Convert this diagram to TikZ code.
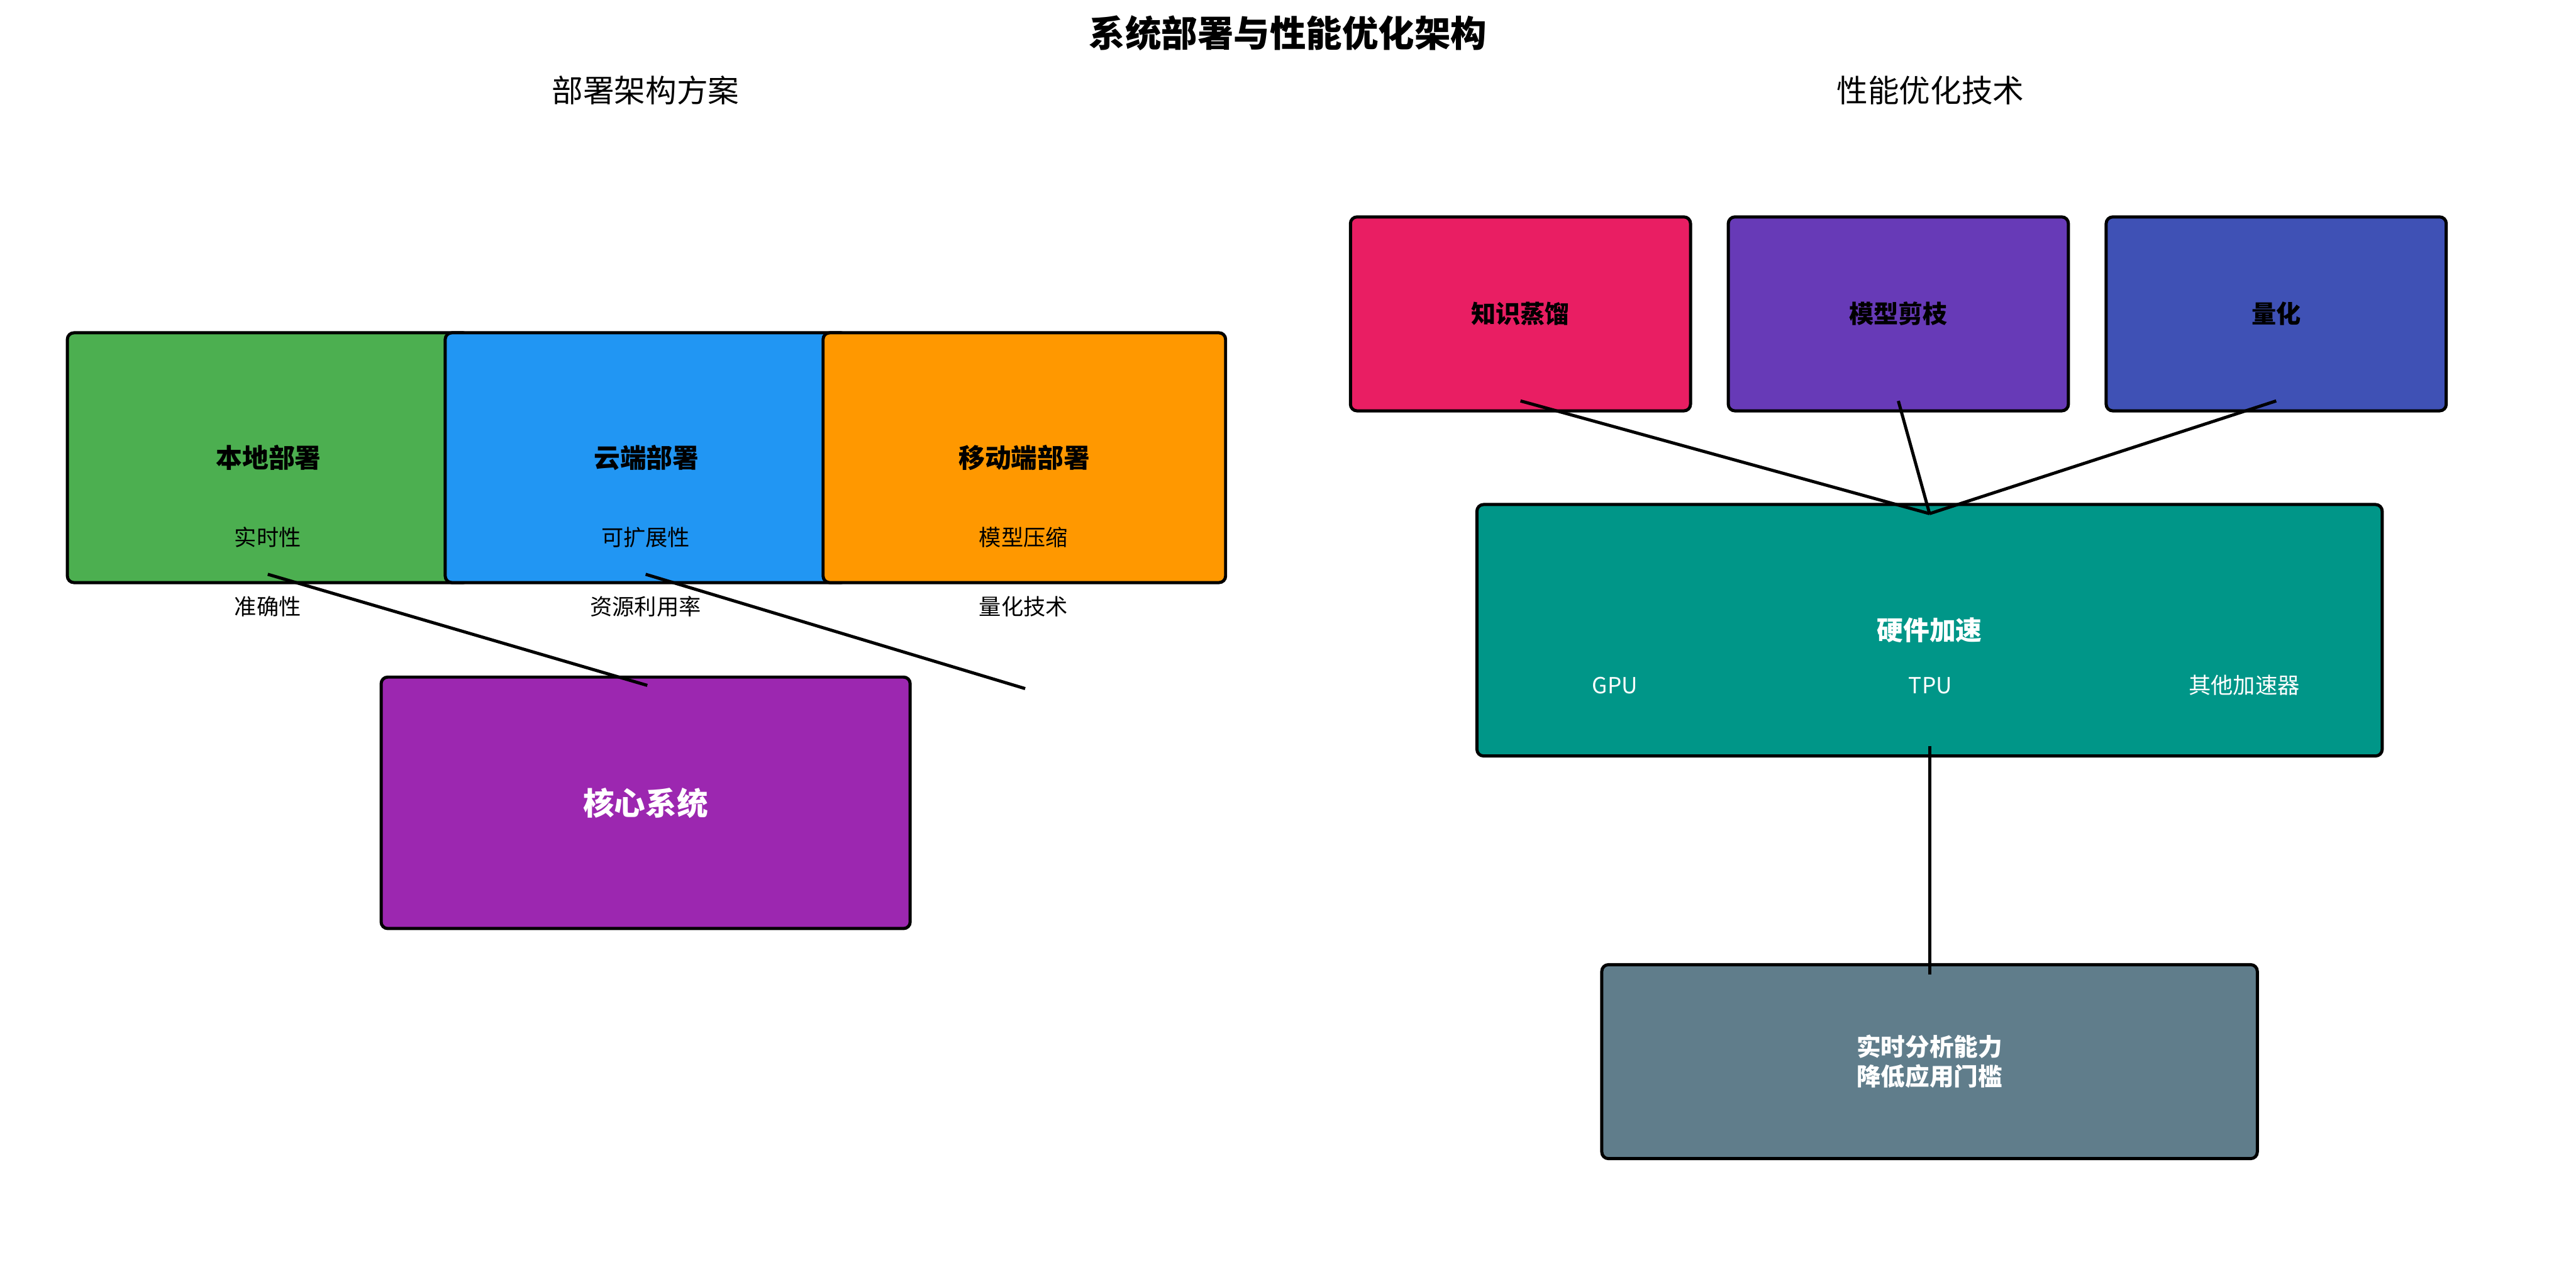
\documentclass[tikz,border=0pt]{standalone}
\usepackage{fontspec}
\setmainfont{Noto Sans CJK SC}
\begin{document}
\begin{tikzpicture}[x=1pt,y=-1pt,
  box/.style={draw=black,line width=1.9pt,rounded corners=4pt,inner sep=0pt},
  conn/.style={draw=black,line width=1.9pt},
  ttl/.style={font=\fontsize{22}{26}\selectfont\bfseries},
  sub/.style={font=\fontsize{19}{22}\selectfont},
  mlab/.style={font=\fontsize{16}{19}\selectfont\bfseries},
  slab/.style={font=\fontsize{13.5}{16}\selectfont}]
\definecolor{cgreen}{HTML}{4CAF50}
\definecolor{cblue}{HTML}{2196F3}
\definecolor{corange}{HTML}{FF9800}
\definecolor{cpurple}{HTML}{9C27B0}
\definecolor{cpink}{HTML}{E91E63}
\definecolor{cdeep}{HTML}{673AB7}
\definecolor{cindigo}{HTML}{3F51B5}
\definecolor{cteal}{HTML}{009688}
\definecolor{cgrey}{HTML}{607D8B}
\path[use as bounding box,fill=white] (0,0) rectangle (1568,778);

\node[ttl] (title) at (784,20) {系统部署与性能优化架构};
\node[sub] (subL) at (393,55) {部署架构方案};
\node[sub] (subR) at (1175,55) {性能优化技术};

% left deployment boxes
\node[box,fill=cgreen,minimum width=245pt,minimum height=152pt,mlab] (local) at (163.5,278.5) {本地部署};
\node[box,fill=cblue,minimum width=245pt,minimum height=152pt,mlab] (cloud) at (393.5,278.5) {云端部署};
\node[box,fill=corange,minimum width=245pt,minimum height=152pt,mlab] (mobile) at (623.5,278.5) {移动端部署};
\node[box,fill=cpurple,minimum width=322pt,minimum height=153pt,text=white,font=\fontsize{19}{22}\selectfont\bfseries] (core) at (393,488.5) {核心系统};

\node[slab] (l1) at (163,327) {实时性};
\node[slab] (l2) at (163,369) {准确性};
\node[slab] (c1) at (393,327) {可扩展性};
\node[slab] (c2) at (393,369) {资源利用率};
\node[slab] (m1) at (623,327) {模型压缩};
\node[slab] (m2) at (623,369) {量化技术};

\coordinate (freeend) at (624,419);
\draw[conn] ([xshift=-0.5pt,yshift=6pt]local.south) -- ([xshift=1pt,yshift=-6pt]core.north);
\draw[conn] ([xshift=-0.5pt,yshift=6pt]cloud.south) -- (freeend);

% right optimisation boxes
\node[box,fill=cpink,minimum width=207pt,minimum height=118pt,font=\fontsize{15}{18}\selectfont\bfseries] (kd) at (925.5,191) {知识蒸馏};
\node[box,fill=cdeep,minimum width=207pt,minimum height=118pt,font=\fontsize{15}{18}\selectfont\bfseries] (prune) at (1155.5,191) {模型剪枝};
\node[box,fill=cindigo,minimum width=207pt,minimum height=118pt,font=\fontsize{15}{18}\selectfont\bfseries] (quant) at (1385.5,191) {量化};
\node[box,fill=cteal,minimum width=551pt,minimum height=153pt,text=white,mlab] (hw) at (1174.5,383.5) {硬件加速};
\node[slab,text=white] (gpu) at (983,417) {GPU};
\node[slab,text=white] (tpu) at (1175,417) {TPU};
\node[slab,text=white] (other) at (1366,417) {其他加速器};
\node[box,fill=cgrey,minimum width=399pt,minimum height=118pt,text=white,align=center,font=\fontsize{14.8}{18}\selectfont\bfseries] (result) at (1174.5,646) {实时分析能力\\降低应用门槛};

\coordinate (hwin) at ([yshift=-6.5pt]hw.north);
\draw[conn] ([yshift=7pt]kd.south) -- (hwin);
\draw[conn] ([yshift=7pt]prune.south) -- (hwin);
\draw[conn] ([yshift=7pt]quant.south) -- (hwin);
\draw[conn] ([yshift=7pt]hw.south) -- ([yshift=-7pt]result.north);
\end{tikzpicture}
\end{document}
